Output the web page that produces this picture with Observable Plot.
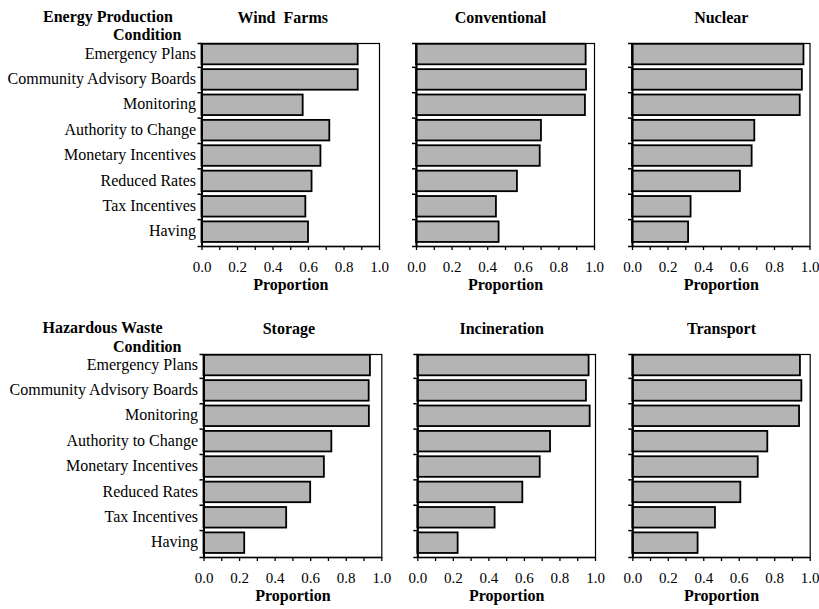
<!DOCTYPE html>
<html>
<head>
<meta charset="utf-8">
<script src="https://cdn.jsdelivr.net/npm/d3@7"></script>
<script src="https://cdn.jsdelivr.net/npm/@observablehq/plot@0.6"></script>
<style>
  body { margin: 0; background: #fff; }
  #chart { position: relative; width: 819px; height: 609px; overflow: hidden; background: #fff; }
  .panel { position: absolute; }
  .panel svg { overflow: visible; }
  .panel svg, .panel svg text { font-family: "Liberation Serif", "Times New Roman", Times, serif !important; }
</style>
</head>
<body>
<div id="chart"></div>
<script>
// ---- Data ----
const conditions = [
  "Emergency Plans",
  "Community Advisory Boards",
  "Monitoring",
  "Authority to Change",
  "Monetary Incentives",
  "Reduced Rates",
  "Tax Incentives",
  "Having"
];
const windFarms    = [0.88, 0.88, 0.57, 0.72, 0.67, 0.62, 0.585, 0.60];
const conventional = [0.953, 0.955, 0.949, 0.702, 0.695, 0.567, 0.449, 0.464];
const nuclear      = [0.966, 0.957, 0.945, 0.689, 0.674, 0.608, 0.33, 0.316];
const storage      = [0.936, 0.929, 0.93, 0.719, 0.677, 0.60, 0.465, 0.229];
const incineration = [0.964, 0.949, 0.97, 0.747, 0.689, 0.591, 0.435, 0.227];
const transport    = [0.945, 0.953, 0.94, 0.761, 0.707, 0.609, 0.466, 0.368];
const xTicks = [0, 0.1, 0.2, 0.3, 0.4, 0.5, 0.6, 0.7, 0.8, 0.9, 1.0];
const xTickLabels = ["0.0", "", "0.2", "", "0.4", "", "0.6", "", "0.8", "", "1.0"];
const rowTitles = ["Energy Production", "Hazardous Waste"];
const conditionLabel = "Condition";
const axisLabel = "Proportion";

// ---- Layout ----
const FONT = "Liberation Serif";
const panels = [
  {title: "Wind  Farms", values: windFarms, left: 0, top: 0, width: 392, height: 300, mL: 201.5, mR: 13, mT: 43, mB: 54, row: 0, first: true, tdx: -8},
  {title: "Conventional", values: conventional, left: 400, top: 0, width: 210, height: 300, mL: 16, mR: 16, mT: 43, mB: 54, row: 0, first: false, tdx: -5},
  {title: "Nuclear", values: nuclear, left: 615, top: 0, width: 204, height: 300, mL: 17, mR: 9.5, mT: 43, mB: 54, row: 0, first: false, tdx: 0},
  {title: "Storage", values: storage, left: 0, top: 310, width: 392, height: 299, mL: 203.5, mR: 10.7, mT: 44, mB: 52, row: 1, first: true, tdx: -4},
  {title: "Incineration", values: incineration, left: 400, top: 310, width: 210, height: 299, mL: 17.3, mR: 15, mT: 44, mB: 52, row: 1, first: false, tdx: -5},
  {title: "Transport", values: transport, left: 615, top: 310, width: 204, height: 299, mL: 17.3, mR: 9.3, mT: 44, mB: 52, row: 1, first: false, tdx: 0}
];

const n = conditions.length;
const barTop = 0.03, barBottom = 0.84;
const boundaryTicks = d3.range(0, n + 1).map(i => i === 0 || i === n ? i : i - 0.06);

const chart = document.getElementById("chart");

for (const p of panels) {
  const data = conditions.map((c, i) => ({condition: c, index: i, value: p.values[i]}));
  const marks = [
    Plot.rectX(data, {
      x1: d => 0, x2: "value",
      y1: d => d.index + barTop, y2: d => d.index + barBottom,
      fill: "#b4b4b4", stroke: "black", strokeWidth: 1.8
    }),
    Plot.frame({stroke: "black", strokeWidth: 1.2}),
    Plot.ruleX([0], {stroke: "black", strokeWidth: 2}),
    Plot.ruleY([n], {stroke: "black", strokeWidth: 1.6}),
    Plot.axisX({
      ticks: xTicks, tickSize: 4, tickPadding: 11,
      tickFormat: d => xTickLabels[Math.round(d * 10)],
      fontSize: 15, fontFamily: FONT, label: null, strokeWidth: 1.3
    }),
    Plot.axisY({
      ticks: boundaryTicks, tickSize: 4, tickFormat: () => "",
      label: null, strokeWidth: 1.5
    }),
    Plot.text([p.title], {
      text: d => d, frameAnchor: "top", lineAnchor: "middle", dy: -26, dx: p.tdx,
      fontWeight: "bold", fontSize: 16, fontFamily: FONT
    }),
    Plot.text([axisLabel], {
      text: d => d, frameAnchor: "bottom", lineAnchor: "middle", dy: 38,
      fontWeight: "bold", fontSize: 16, fontFamily: FONT
    })
  ];
  if (p.first) {
    marks.push(
      Plot.text(data, {
        y: d => d.index + (barTop + barBottom) / 2, text: "condition",
        frameAnchor: "left", lineAnchor: "middle", textAnchor: "end", dx: -6, dy: -1,
        fontSize: 16, fontFamily: FONT
      }),
      Plot.text([rowTitles[p.row]], {
        text: d => d, frameAnchor: "top-left", lineAnchor: "middle", textAnchor: "start",
        dx: p.row === 0 ? -159 : -161.5, dy: -27, fontWeight: "bold", fontSize: 16, fontFamily: FONT
      }),
      Plot.text([conditionLabel], {
        text: d => d, frameAnchor: "top-left", lineAnchor: "middle", textAnchor: "end",
        dx: p.row === 0 ? -20.5 : -22.5, dy: p.row === 0 ? -9 : -7.5,
        fontWeight: "bold", fontSize: 16, fontFamily: FONT
      })
    );
  }
  const plot = Plot.plot({
    width: p.width, height: p.height,
    marginLeft: p.mL, marginRight: p.mR, marginTop: p.mT, marginBottom: p.mB,
    x: {domain: [0, 1]},
    y: {domain: [0, n], reverse: true},
    style: {fontFamily: FONT, fontSize: "16px", color: "black", background: "white", whiteSpace: "pre"},
    marks
  });
  const div = document.createElement("div");
  div.className = "panel";
  div.style.left = p.left + "px";
  div.style.top = p.top + "px";
  div.appendChild(plot);
  chart.appendChild(div);
}
</script>
</body>
</html>
